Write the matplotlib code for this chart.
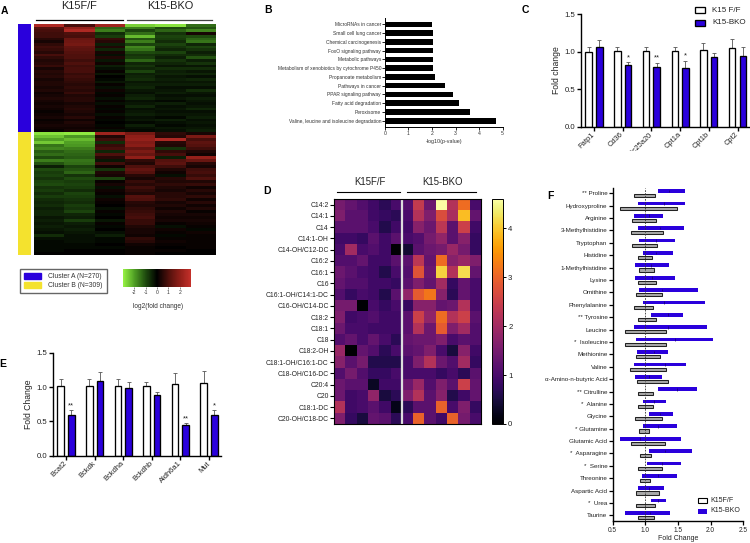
import numpy as np
import matplotlib
matplotlib.use("Agg")
import matplotlib.pyplot as plt
from matplotlib.colors import LinearSegmentedColormap, Normalize
from matplotlib.cm import ScalarMappable
from matplotlib.patches import Patch, Rectangle
from matplotlib.transforms import Bbox

plt.rcParams['font.family'] = ['Liberation Sans', 'DejaVu Sans']
W, H = 750, 543
BLUE = '#2a00dc'
YEL = '#f4e22e'
TXT = '#222222'

# Panel A
clusterA = [
 [2.6,0.9,2.3,-2.6,-2.8,-1.4],[1.1,2.1,-1.3,-1.6,-1.0,-1.1],[0.9,2.6,-1.6,-0.9,-1.3,-1.7],[0.8,1.0,-0.6,-1.4,-0.7,0.3],
 [0.8,0.9,-0.8,-2.3,-0.9,-1.0],[0.5,1.4,0.7,-1.1,-0.8,-1.3],[0.3,1.5,0.5,-1.6,-0.6,-1.5],[0.6,1.6,-0.4,-0.9,-0.9,-0.5],
 [0.8,1.3,0.4,-1.7,-0.7,-0.9],[0.7,1.2,-0.5,-1.5,-0.5,-0.7],[0.5,1.1,0.3,-1.0,-0.9,-0.4],[0.9,1.0,-0.2,-0.7,-0.6,-0.6],
 [0.6,1.0,0.4,-0.8,-0.4,-1.1],[0.4,0.8,-0.3,-1.3,-0.7,-0.4],[0.5,1.0,0.2,-0.5,-0.5,-0.7],[0.7,0.8,-0.4,-0.7,-0.3,-0.3],
 [0.3,0.9,-0.2,-0.5,-0.6,-0.6],[0.5,0.9,0.1,-0.9,-0.4,-0.3],[0.4,0.7,-0.3,-0.4,-0.5,-0.5],[0.5,0.8,0.0,-0.5,-0.3,-0.2],
 [0.3,0.7,-0.1,-0.6,-0.4,-0.5],[0.4,0.6,-0.3,-0.3,-0.3,-0.3],[0.4,0.5,0.1,-0.4,-0.4,-0.4],[0.3,0.6,-0.2,-0.5,-0.2,-0.2],
 [0.4,0.5,0.2,-0.3,-0.3,-0.6],[0.2,0.7,-0.1,-0.2,-0.4,-0.3],[0.3,0.4,0.1,-0.4,-0.2,-0.2],[0.4,0.5,-0.2,-0.5,-0.3,-0.4],
 [0.3,0.5,0.1,-0.2,-0.1,-0.3],[0.2,0.3,-0.2,-0.3,-0.4,-0.2],[0.3,0.4,0.1,-0.5,-0.2,-0.3],[0.2,0.5,-0.1,-0.2,-0.3,-0.5],
 [0.1,0.4,0.1,-0.3,-0.2,-0.2],[0.2,0.3,-0.2,-0.4,-0.3,-0.3],[0.3,0.5,0.1,-0.2,-0.1,-0.4],[0.1,0.2,-0.1,-0.3,-0.4,-0.2],
 [0.2,0.4,0.0,-0.1,-0.2,-0.3],[0.3,0.3,-0.1,-0.4,-0.1,-0.2],[0.2,0.2,0.1,-0.2,-0.3,-0.3],[0.1,0.3,-0.2,-0.1,-0.2,-0.4],
]
clusterB = [
 [-2.8,-2.9,2.3,1.6,0.6,0.3],[-2.4,-1.9,0.4,2.0,0.5,1.7],[-2.0,-2.3,0.8,2.1,2.6,0.9],[-2.5,-2.0,-0.6,1.8,0.5,1.2],
 [-1.5,-1.9,0.7,1.9,0.4,1.1],[-1.7,-1.6,0.9,1.3,-0.7,0.8],[-1.2,-1.4,-0.5,1.7,0.6,0.4],[-1.4,-1.3,1.0,1.4,0.9,0.2],
 [-1.0,-1.2,0.5,2.0,-0.4,2.1],[-1.6,-1.5,-0.3,0.6,1.1,1.4],[-1.1,-1.4,0.8,0.4,1.2,0.5],[-0.4,-0.9,0.2,1.0,0.8,0.3],
 [-1.0,-1.1,-0.7,1.3,0.4,0.8],[-0.8,-1.3,0.4,1.1,0.2,0.9],[-0.9,-0.7,0.3,0.5,-0.2,0.7],[-0.7,-1.0,-0.9,0.3,0.5,1.0],
 [-0.9,-0.8,0.1,0.7,0.4,0.4],[-1.0,-0.9,0.3,0.5,0.6,0.7],[-0.7,-0.8,-0.2,0.8,0.4,0.2],[-0.8,-0.6,0.2,0.6,0.3,0.5],
 [-0.6,-0.9,0.1,0.4,0.5,0.3],[-0.8,-0.8,-0.2,1.1,0.5,0.6],[-0.6,-0.7,0.2,1.0,0.6,0.2],[-0.5,-0.6,0.1,0.5,0.3,0.5],
 [-0.6,-0.8,0.0,0.4,0.4,0.2],[-0.4,-0.7,-0.2,0.6,0.2,0.4],[-0.5,-0.9,0.1,0.7,0.4,0.1],[-0.5,-0.5,-0.1,0.8,0.3,0.3],
 [-0.3,-0.4,0.0,0.9,0.2,0.2],[-0.4,-0.8,-0.3,0.7,0.3,0.3],[-0.3,-0.4,0.1,0.7,0.1,0.2],[-0.4,-0.3,-0.1,0.4,-0.2,0.1],
 [-0.3,-0.4,0.0,0.3,0.2,-0.1],[-0.2,-0.3,-0.2,0.3,0.1,0.2],[-0.6,-0.2,-0.4,0.2,-0.1,0.1],[-0.2,-0.2,-0.1,0.6,0.1,0.1],
 [-0.1,-0.2,-0.1,0.5,0.2,0.1],[-0.1,-0.1,0.0,0.2,0.1,0.1],[-0.1,-0.1,-0.1,0.1,0.0,0.1],[-0.1,0.0,0.0,0.1,0.1,0.0],
 [0.0,0.0,0.0,0.1,0.0,0.0],
]

# Panel B
pathways = ['MicroRNAs in cancer','Small cell lung cancer','Chemical carcinogenesis','FoxO signaling pathway',
            'Metabolic pathways','Metabolism of xenobiotics by cytochrome P450','Propanoate metabolism','Pathways in cancer',
            'PPAR signaling pathway','Fatty acid degradation','Peroxisome','Valine, leucine and isoleucine degradation']
pathway_vals = [2.0,2.05,2.05,2.05,2.05,2.05,2.15,2.55,2.9,3.15,3.6,4.72]

# Panel C
c_genes = ['Fatp1','Cd36','Slc25a20','Cpt1a','Cpt1b','Cpt2']
c_ff = [1.0,1.01,1.01,1.01,1.02,1.05]
c_ff_err = [0.06,0.06,0.05,0.06,0.10,0.12]
c_bko = [1.07,0.83,0.80,0.79,0.93,0.94]
c_bko_err = [0.09,0.03,0.05,0.09,0.06,0.12]
c_stars = ['','*','**','*','','']

# Panel D
d_labels = ['C14:2','C14:1','C14','C14:1-OH','C14-OH/C12-DC','C16:2','C16:1','C16','C16:1-OH/C14:1-DC','C16-OH/C14-DC',
            'C18:2','C18:1','C18','C18:2-OH','C18:1-OH/C16:1-DC','C18-OH/C16-DC','C20:4','C20','C18:1-DC','C20-OH/C18-DC']
d_vals = [
 [1.5,1.3,1.1,0.9,0.7,1.0,1.1,2.4,1.4,4.6,2.2,3.1,1.0],
 [1.6,1.2,1.2,0.9,0.8,0.7,1.0,2.2,1.6,2.7,2.1,3.9,1.3],
 [1.2,1.2,1.2,1.0,0.6,0.9,0.9,1.7,1.4,2.3,1.2,2.5,0.9],
 [0.9,0.9,0.8,1.2,0.9,1.2,1.0,1.1,1.5,1.8,1.2,1.7,0.8],
 [1.0,2.0,1.0,1.1,0.9,0.0,0.4,1.2,1.4,1.5,1.9,1.5,0.8],
 [1.1,1.1,1.3,0.9,0.9,1.2,1.2,2.3,1.3,3.1,1.7,1.9,1.6],
 [1.4,1.2,1.0,0.9,0.6,1.0,1.1,2.8,1.4,4.1,2.2,4.2,1.3],
 [1.3,1.1,1.1,0.9,0.9,0.8,1.2,1.6,1.3,2.0,0.8,1.3,1.0],
 [1.1,0.8,1.0,0.9,0.6,1.2,1.8,2.9,3.2,1.7,0.7,1.3,1.0],
 [1.5,1.5,0.0,1.0,0.8,1.0,0.8,1.7,1.7,1.3,1.4,2.2,1.0],
 [1.6,0.9,1.0,1.1,0.9,0.9,1.2,2.5,1.8,3.1,2.2,2.5,1.2],
 [1.4,1.0,1.0,0.9,0.9,0.9,1.2,2.2,1.4,2.9,1.6,2.0,1.1],
 [1.1,1.3,1.0,1.3,1.0,0.7,1.3,1.4,1.4,1.6,1.0,1.2,1.1],
 [1.9,0.0,1.3,1.1,0.7,1.0,1.2,1.3,1.6,1.0,0.5,1.7,0.9],
 [1.7,1.2,1.5,0.6,0.6,0.6,1.0,1.6,2.2,1.4,1.1,2.0,0.8],
 [1.1,1.5,1.1,0.8,0.8,1.0,1.0,1.0,1.0,0.8,1.0,0.7,1.2],
 [1.4,1.2,1.2,0.3,0.9,0.9,1.4,1.9,1.1,1.6,1.2,2.5,1.3],
 [1.4,0.9,1.0,1.8,0.5,0.7,1.6,2.2,1.2,1.7,0.6,0.9,1.3],
 [2.2,0.9,1.0,1.2,0.9,0.2,0.7,1.2,1.2,3.0,1.0,1.6,0.8],
 [1.6,0.8,0.5,1.3,1.2,0.7,1.0,3.0,1.2,0.9,3.0,1.5,1.0],
]

# Panel E
e_genes = ['Bcat2','Bckdk','Bckdha','Bckdhb','Aldh6a1','Mut']
e_ff = [1.02,1.02,1.02,1.01,1.05,1.06]
e_ff_err = [0.10,0.10,0.10,0.07,0.15,0.17]
e_bko = [0.60,1.09,0.98,0.88,0.44,0.60]
e_bko_err = [0.06,0.13,0.09,0.05,0.03,0.06]
e_stars = ['**','','','','**','*']

# Panel F
f_labels = ['** Proline','Hydroxyproline','Arginine','3-Methylhistidine','Tryptophan','Histidine','1-Methylhistidine','Lysine',
            'Ornithine','Phenylalanine','** Tyrosine','Leucine','*  Isoleucine','Methionine','Valine','\u03b1-Amino-n-butyric Acid',
            '** Citrulline','*  Alanine','Glycine','* Glutamine','Glutamic Acid','*  Asparagine','*  Serine','Threonine',
            'Aspartic Acid','*  Urea','Taurine']
f_b_low = [1.19,.88,.83,.88,.91,.97,.84,.84,.90,.97,1.08,.82,.86,.87,.83,.84,1.20,.96,1.05,.96,.61,1.06,1.03,.95,.88,1.08,.69]
f_b_high = [1.60,1.60,1.27,1.59,1.46,1.43,1.36,1.45,1.80,1.92,1.57,1.95,2.04,1.34,1.63,1.25,1.79,1.32,1.42,1.48,1.55,1.72,1.54,1.49,1.28,1.32,1.37]
f_b_med = [1.36,1.29,1.05,1.22,1.17,1.17,1.09,1.10,1.26,1.29,1.35,1.35,1.45,1.14,1.30,1.05,1.48,1.14,1.22,1.20,.92,1.30,1.25,1.20,1.05,1.20,1.07]
f_w_low = [.83,.61,.79,.78,.79,.88,.91,.89,.85,.83,.89,.69,.69,.85,.76,.87,.89,.89,.84,.90,.78,.92,.88,.92,.86,.85,.88]
f_w_high = [1.15,1.48,1.16,1.27,1.18,1.10,1.14,1.17,1.26,1.11,1.16,1.31,1.31,1.22,1.32,1.35,1.11,1.11,1.26,1.05,1.30,1.09,1.25,1.07,1.21,1.15,1.13]


def ax_px(x0, y0, x1, y1):
    return fig.add_axes([x0 / W, 1 - y1 / H, (x1 - x0) / W, (y1 - y0) / H])


def ftext(x, y, s, **kw):
    kw.setdefault('ha', 'center')
    kw.setdefault('va', 'center')
    kw.setdefault('color', TXT)
    fig.text(x / W, 1 - y / H, s, **kw)


def fline(x0, x1, y, color='k', lw=0.9):
    fig.add_artist(plt.Line2D([x0 / W, x1 / W], [1 - y / H, 1 - y / H], color=color, lw=lw))


def style(ax, lw=1.0):
    for s in ['top', 'right']:
        ax.spines[s].set_visible(False)
    for s in ['left', 'bottom']:
        ax.spines[s].set_linewidth(lw)


fig = plt.figure(figsize=(W / 100, H / 100), dpi=100)

for x, y, s in [(4, 11, 'A'), (268, 10, 'B'), (525, 10, 'C'), (267, 191, 'D'), (3, 364, 'E'), (550, 196, 'F')]:
    ftext(x, y, s, fontsize=7.5, fontweight='bold', color='k')

# ---------- A ----------
gbr = LinearSegmentedColormap.from_list('gbr', ['#96f244', '#4f9e24', '#1e4a0e', '#000000', '#4e100c', '#8e1e18', '#c4302a'])
axA = ax_px(34, 24, 216, 255)
rowsA = np.array(clusterA)
rowsB = np.array(clusterB)
yedges = np.r_[np.linspace(0, 108, len(rowsA) + 1), np.linspace(108, 231, len(rowsB) + 1)[1:]]
axA.pcolormesh(np.arange(7), yedges, np.vstack([rowsA, rowsB]), cmap=gbr, vmin=-3, vmax=3, rasterized=True)
axA.set_ylim(231, 0)
axA.axis('off')
axS = ax_px(18, 24, 31, 255)
axS.add_patch(Rectangle((0, 0), 1, 108, color=BLUE, lw=0))
axS.add_patch(Rectangle((0, 108), 1, 123, color=YEL, lw=0))
axS.set_xlim(0, 1); axS.set_ylim(231, 0); axS.axis('off')
ftext(79, 6, 'K15F/F', fontsize=7.9)
ftext(170, 6, 'K15-BKO', fontsize=7.9)
fline(36, 123, 19.5, 'k', 0.9)
fline(127, 212, 19.5, '#444444', 0.9)

leg = fig.legend(handles=[Patch(color=BLUE, label='Cluster A (N=270)'), Patch(color=YEL, label='Cluster B (N=309)')],
                 loc='upper left', bbox_to_anchor=(19.5 / W, 1 - 268.5 / H), fontsize=4.9, frameon=True, fancybox=False,
                 edgecolor='#666666', handlelength=2.6, handleheight=1.0, borderaxespad=0, labelspacing=0.3,
                 borderpad=0.6, handletextpad=1.0, labelcolor='#333333')
leg.get_frame().set_linewidth(1.0)
leg.get_frame().set_alpha(1)

cA = ax_px(123, 269, 191, 287)
cbA = fig.colorbar(ScalarMappable(Normalize(-3, 3), gbr), cax=cA, orientation='horizontal', ticks=[-2, -1, 0, 1, 2])
cbA.outline.set_visible(False)
cbA.ax.tick_params(labelsize=3.6, length=1.5, width=0.4, pad=1, colors='#333333')
cbA.ax.set_xticklabels(['-2', '-1', '0', '1', '2'])
ftext(158, 306, 'log2(fold change)', fontsize=4.7, color='#333333')

# ---------- B ----------
axB = ax_px(384.7, 18, 502.7, 126.7)
axB.barh(range(12), pathway_vals, height=0.64, color='k')
axB.set_xlim(0, 5)
axB.set_ylim(11.685, -0.72)
axB.set_yticks(range(12), pathways)
axB.set_xticks(range(6))
style(axB, 0.7)
axB.tick_params(axis='y', labelsize=3.55, length=2, width=0.6, pad=0.6, labelcolor='#333333')
axB.tick_params(axis='x', labelsize=3.7, length=2, width=0.6, pad=1, labelcolor='#333333')
ftext(444, 141.7, '-log10(p-value)', fontsize=3.9, color='#333333')


def grouped(ax, labels, ff, ff_err, bko, bko_err, stars, ylabel):
    x = np.arange(len(labels))
    off, w = 0.186, 0.226
    ax.bar(x - off, ff, w, color='white', edgecolor='k', lw=0.95, zorder=2)
    ax.bar(x + off, bko, w, color=BLUE, edgecolor='k', lw=0.95, zorder=2)
    for xs, v, e in [(x - off, ff, ff_err), (x + off, bko, bko_err)]:
        ax.errorbar(xs, v, yerr=[np.zeros(len(v)), e], fmt='none', ecolor='#555555', elinewidth=0.6, capsize=1.5,
                    capthick=0.6, zorder=1)
    for xi, v, e, s in zip(x, bko, bko_err, stars):
        if s:
            ax.text(xi + off, v + e + 0.015, s, ha='center', va='bottom', fontsize=5.5, color=TXT, linespacing=0)
    ax.set_ylim(0, 1.5)
    ax.set_yticks([0, 0.5, 1.0, 1.5], ['0.0', '0.5', '1.0', '1.5'])
    ax.set_xticks(x, labels, rotation=45, ha='right', va='center', rotation_mode='anchor')
    ax.set_ylabel(ylabel, fontsize=6.2, color=TXT, labelpad=2.5)
    style(ax, 1.0)
    ax.tick_params(axis='y', labelsize=5.6, length=3, width=1.0, pad=1.5, labelcolor=TXT)
    ax.tick_params(axis='x', labelsize=5.4, length=3, width=1.0, pad=2, labelcolor=TXT)


# ---------- C ----------
axC = ax_px(581.3, 14.3, 750, 126.7)
grouped(axC, c_genes, c_ff, c_ff_err, c_bko, c_bko_err, c_stars, 'Fold change')
axC.set_xlim((581.3 - 594) / 28.7, (750 - 594) / 28.7)
for lbl in axC.get_xticklabels():
    lbl.set_clip_on(True)
    lbl.set_clip_box(Bbox([[0, H - 151], [W, H]]))
fig.add_artist(Rectangle((695 / W, 1 - 13 / H), 10 / W, 6 / H, transform=fig.transFigure, fc='white', ec='k', lw=0.95))
fig.add_artist(Rectangle((695 / W, 1 - 26 / H), 10 / W, 6 / H, transform=fig.transFigure, fc=BLUE, ec='k', lw=0.95))
ftext(712, 10, 'K15 F/F', fontsize=5.8, ha='left')
ftext(712, 23, 'K15-BKO', fontsize=5.8, ha='left')

# ---------- D ----------
axD = ax_px(334.3, 199, 480.7, 424)
imD = axD.imshow(np.array(d_vals), cmap='inferno', vmin=0, vmax=4.6, aspect='auto', interpolation='nearest')
axD.axvline(5.5, color='#dddddd', lw=1.6)
axD.set_yticks(range(20), d_labels)
axD.set_xticks([])
axD.tick_params(axis='y', labelsize=4.9, length=3, width=0.8, pad=1, labelcolor=TXT)
for s in axD.spines.values():
    s.set_linewidth(0.8)
cD = ax_px(491.7, 199, 503.3, 424)
cbD = fig.colorbar(imD, cax=cD, ticks=[0, 1, 2, 3, 4])
cbD.ax.tick_params(labelsize=5.6, length=2, width=0.7, pad=1.5, labelcolor=TXT)
cbD.outline.set_linewidth(0.7)
ftext(370, 182, 'K15F/F', fontsize=6.9)
ftext(442, 182, 'K15-BKO', fontsize=6.9)
fline(337, 400, 192, 'k', 0.8)
fline(407, 476, 192, 'k', 0.8)

# ---------- E ----------
axE = ax_px(53.3, 352.7, 221, 455.7)
grouped(axE, e_genes, e_ff, e_ff_err, e_bko, e_bko_err, e_stars, 'Fold Change')
axE.set_xlim((53.3 - 66) / 28.6, (221 - 66) / 28.6)

# ---------- F ----------
axF = ax_px(612.7, 188, 743.3, 520.7)
n = len(f_labels)
yy = np.arange(n)
b_low, b_high = np.array(f_b_low), np.array(f_b_high)
w_low, w_high = np.array(f_w_low), np.array(f_w_high)
axF.barh(yy + 0.19, w_high - w_low, left=w_low, height=0.25, color='#a8a8a8', edgecolor='#222222', lw=0.75, zorder=2)
axF.barh(yy - 0.19, b_high - b_low, left=b_low, height=0.3, color=BLUE, edgecolor='none', zorder=2)
axF.vlines(f_b_med, yy - 0.3, yy - 0.08, color='#14006a', lw=0.5, zorder=3)
axF.axvline(1.0, color='#333333', lw=0.6, ls=(0, (2, 1.5)), zorder=4)
axF.set_xlim(0.5, 2.5)
axF.set_ylim(26.43, -0.43)
axF.set_yticks(yy, f_labels)
axF.set_xticks([0.5, 1.0, 1.5, 2.0, 2.5])
style(axF, 1.0)
axF.tick_params(axis='y', labelsize=4.5, length=3, width=0.9, pad=0.8, labelcolor=TXT)
axF.tick_params(axis='x', labelsize=4.7, length=3, width=0.9, pad=1.5, labelcolor=TXT)
ftext(678, 538, 'Fold Change', fontsize=5, color=TXT)
fig.add_artist(Rectangle((697.5 / W, 1 - 503 / H), 9.5 / W, 5 / H, transform=fig.transFigure, fc='white', ec='k', lw=0.8))
fig.add_artist(Rectangle((697.5 / W, 1 - 514 / H), 9.5 / W, 5 / H, transform=fig.transFigure, fc=BLUE, ec='none'))
ftext(710.7, 500, 'K15F/F', fontsize=5, ha='left')
ftext(710.7, 511, 'K15-BKO', fontsize=5, ha='left')

fig.savefig('out.png', dpi=100)
